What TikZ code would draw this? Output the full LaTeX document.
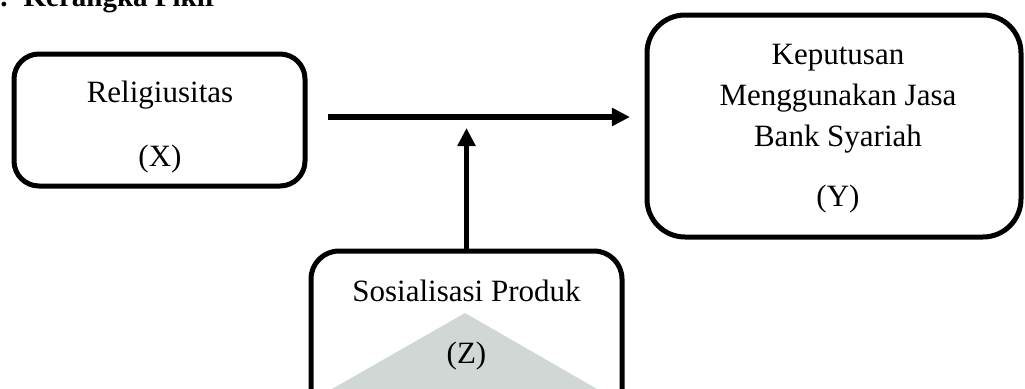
\documentclass[tikz,border=0pt]{standalone}
\usepackage{fontspec}
\setmainfont{Liberation Serif}
\usetikzlibrary{arrows.meta}
\definecolor{markgrey}{RGB}{208,215,212}
\tikzset{
  varbox/.style={draw, line width=3.75pt, rounded corners=#1, inner sep=0pt},
  boxtext/.style={align=center, inner sep=0pt, font=\fontsize{23.25}{30.75}\selectfont},
  flow/.style={line width=4pt, -{Triangle[length=13.5pt,width=13pt]}}
}
\begin{document}
\begin{tikzpicture}[x=0.75pt,y=-0.75pt]
\path[use as bounding box, clip] (0,0) rectangle (1025,389);
% heading, cut off at the top
\node[anchor=base east, inner sep=0pt, font=\fontsize{21.75}{26}\selectfont\bfseries] (head) at (218,7) {B.\hspace{0.55em}Kerangka Pikir};
% boxes
\node[varbox=18.75pt, minimum width=218.25pt, minimum height=99pt] (rel) at (159.5,120) {};
\node[varbox=28.5pt, minimum width=280.5pt, minimum height=166.5pt] (kep) at (834,126) {};
\fill[markgrey] (465,313) -- (597,389) -- (332,389) -- cycle;
\node[varbox=21pt, minimum width=233.25pt, minimum height=126.75pt] (sos) at (466.5,335.5) {};
% labels
\node[boxtext] (reltext) at (160,127.2) {Religiusitas\\[17.25pt](X)};
\node[boxtext] (keptext) at (838,128.5) {Keputusan\\Menggunakan Jasa\\Bank Syariah\\[14.25pt](Y)};
\node[boxtext] (sostext) at (466.5,325) {Sosialisasi Produk\\[15.75pt](Z)};
% arrows
\coordinate (start) at (328,117);
\coordinate (meet) at (466.5,128);
\draw[flow, shorten >=10.9pt] (start) -- (start -| kep.west);
\draw[flow] (sos.north) -- (meet);
\end{tikzpicture}
\end{document}
